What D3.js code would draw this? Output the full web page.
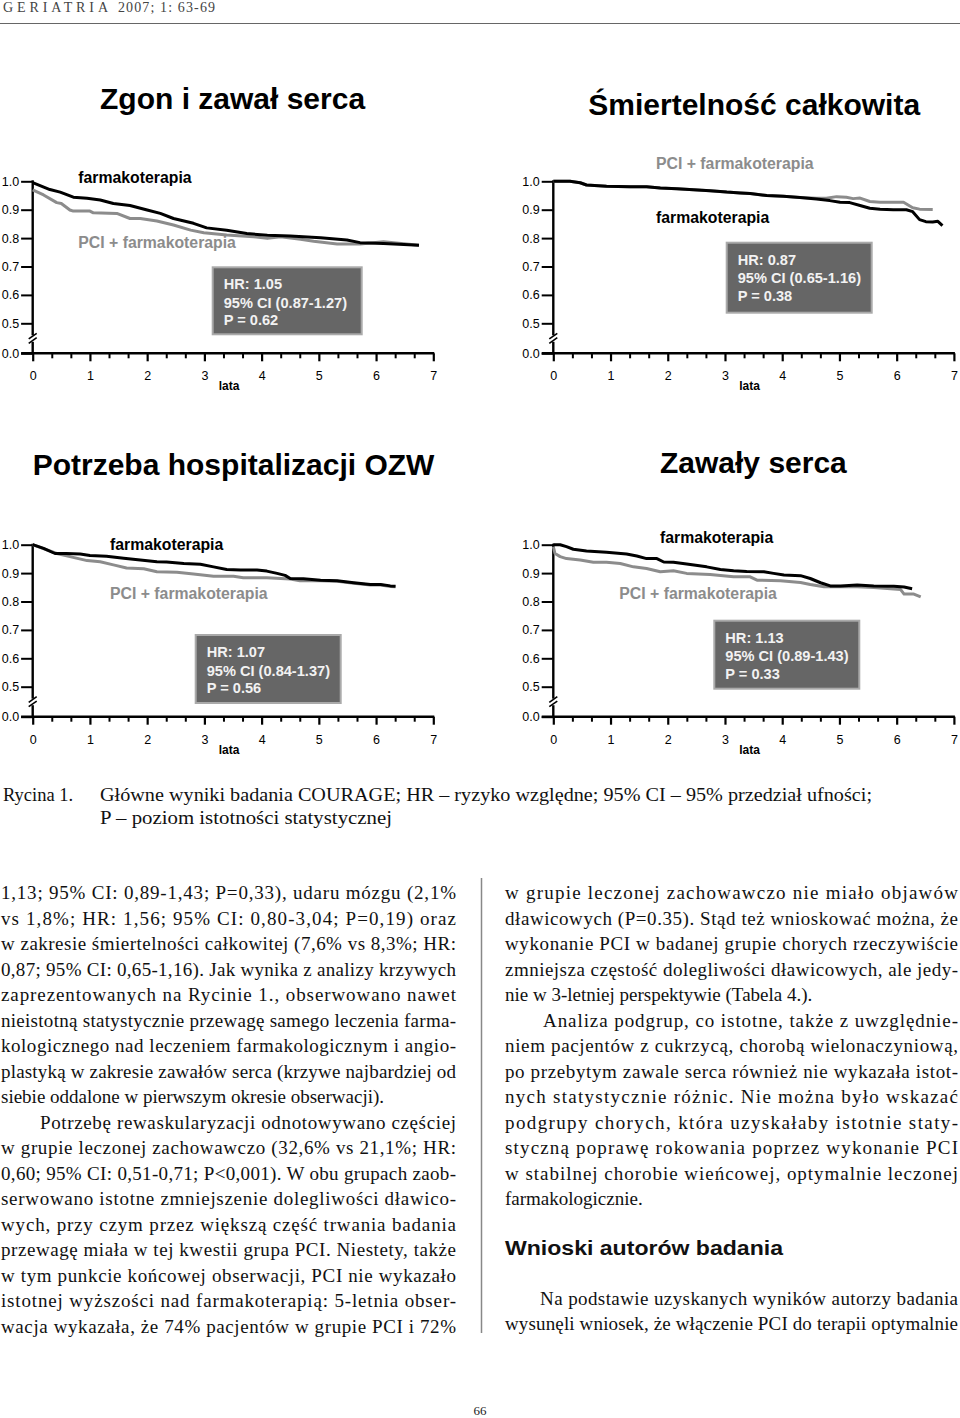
<!DOCTYPE html>
<html><head><meta charset="utf-8">
<script src="https://cdn.jsdelivr.net/npm/d3@7"></script>
<style>body{margin:0;background:#fff} svg{display:block}</style>
</head><body><svg id="c" width="960" height="1418"></svg>
<script>
// ---------------- DATA ----------------
const chartTitles = ["Zgon i zawał serca", "Śmiertelność całkowita", "Potrzeba hospitalizacji OZW", "Zawały serca"];
const seriesNames = ["farmakoterapia", "PCI + farmakoterapia"];
const hrLines = [
  ["HR: 1.05", "95% CI (0.87-1.27)", "P = 0.62"],
  ["HR: 0.87", "95% CI (0.65-1.16)", "P = 0.38"],
  ["HR: 1.07", "95% CI (0.84-1.37)", "P = 0.56"],
  ["HR: 1.13", "95% CI (0.89-1.43)", "P = 0.33"]
];
const xTickValues = [0, 1, 2, 3, 4, 5, 6, 7];
const yTickValues = [0, 0.5, 0.6, 0.7, 0.8, 0.9, 1.0];
const xAxisLabel = "lata";

const zgonFarm = [[0,0.995],[0.3,0.971],[0.48,0.962],[0.71,0.944],[0.95,0.94],[1.18,0.934],[1.41,0.922],[1.7,0.915],[2.0,0.899],[2.23,0.887],[2.46,0.869],[2.81,0.852],[3.04,0.836],[3.39,0.828],[3.74,0.816],[4.1,0.81],[4.5,0.807],[5.03,0.801],[5.49,0.793],[5.72,0.784],[6.13,0.781],[6.75,0.775]];
const zgonPci = [[0,0.97],[0.19,0.952],[0.42,0.925],[0.5,0.922],[0.65,0.899],[0.71,0.895],[1.0,0.895],[1.06,0.889],[1.47,0.887],[1.7,0.869],[1.88,0.869],[2.17,0.86],[2.46,0.846],[2.76,0.828],[2.99,0.819],[3.39,0.811],[3.86,0.805],[4.1,0.799],[4.33,0.805],[4.68,0.796],[4.91,0.789],[5.32,0.779],[5.72,0.779],[6.13,0.787],[6.75,0.775]];

const smiertFarm = [[0,1.0],[0.29,1.0],[0.47,0.995],[0.58,0.987],[0.93,0.983],[1.34,0.981],[1.63,0.981],[1.87,0.976],[2.16,0.974],[2.45,0.97],[2.74,0.967],[3.03,0.962],[3.27,0.959],[3.44,0.957],[3.73,0.95],[4.02,0.947],[4.31,0.943],[4.6,0.938],[4.83,0.932],[5.01,0.926],[5.18,0.925],[5.36,0.915],[5.53,0.905],[5.71,0.902],[5.94,0.9],[6.17,0.9],[6.28,0.893],[6.4,0.865],[6.51,0.858],[6.63,0.857],[6.72,0.859],[6.8,0.844]];
const smiertPci = [[0,1.0],[0.29,1.0],[0.47,0.995],[0.58,0.987],[0.93,0.983],[1.34,0.981],[1.63,0.981],[1.87,0.976],[2.16,0.974],[2.45,0.97],[2.74,0.967],[3.03,0.962],[3.27,0.959],[3.44,0.957],[3.73,0.95],[4.02,0.947],[4.31,0.943],[4.6,0.94],[4.77,0.94],[4.95,0.946],[5.12,0.944],[5.24,0.939],[5.36,0.941],[5.53,0.929],[5.71,0.926],[6.12,0.926],[6.28,0.907],[6.4,0.902],[6.63,0.901]];

const hospFarm = [[0,1.0],[0.19,0.987],[0.39,0.969],[0.59,0.969],[0.83,0.967],[1.0,0.962],[1.29,0.959],[1.59,0.952],[1.88,0.946],[2.17,0.94],[2.34,0.939],[2.64,0.934],[2.93,0.931],[3.16,0.922],[3.39,0.913],[3.63,0.911],[3.92,0.911],[4.09,0.907],[4.27,0.899],[4.41,0.892],[4.5,0.881],[4.73,0.88],[5.03,0.875],[5.32,0.873],[5.61,0.866],[5.9,0.86],[6.08,0.86],[6.25,0.855],[6.34,0.854]];
const hospPci = [[0,1.0],[0.42,0.969],[0.65,0.958],[0.95,0.944],[1.18,0.94],[1.41,0.929],[1.64,0.918],[1.94,0.915],[2.17,0.905],[2.52,0.903],[2.81,0.897],[3.16,0.889],[3.51,0.889],[3.68,0.884],[4.09,0.884],[4.5,0.879],[4.67,0.873],[5.03,0.873],[5.32,0.871],[5.61,0.864],[5.9,0.858],[6.08,0.858],[6.25,0.853],[6.34,0.852]];

const zawalFarm = [[0,1.0],[0.12,1.0],[0.23,0.993],[0.35,0.984],[0.58,0.978],[0.93,0.973],[1.28,0.967],[1.46,0.96],[1.63,0.951],[1.81,0.951],[1.93,0.939],[2.1,0.938],[2.33,0.932],[2.68,0.922],[2.92,0.913],[3.15,0.908],[3.38,0.906],[3.68,0.905],[3.85,0.899],[4.03,0.893],[4.32,0.891],[4.49,0.881],[4.67,0.866],[4.84,0.855],[5.02,0.855],[5.31,0.858],[5.6,0.855],[5.95,0.854],[6.13,0.851],[6.27,0.845]];
const zawalPci = [[0,0.993],[0.03,0.969],[0.12,0.958],[0.23,0.951],[0.47,0.946],[0.7,0.938],[0.93,0.938],[1.17,0.934],[1.4,0.922],[1.63,0.916],[1.87,0.905],[2.1,0.908],[2.33,0.899],[2.74,0.895],[3.15,0.887],[3.44,0.887],[3.56,0.875],[3.97,0.873],[4.32,0.867],[4.49,0.86],[4.73,0.852],[5.02,0.852],[5.31,0.852],[5.6,0.849],[6.07,0.842],[6.13,0.826],[6.3,0.826],[6.42,0.816]];

const farmSeries = [zgonFarm, smiertFarm, hospFarm, zawalFarm];
const pciSeries = [zgonPci, smiertPci, hospPci, zawalPci];

const headerText = ["GERIATRIA", "2007; 1: 63-69"];
const captionLines = ["Główne wyniki badania COURAGE; HR – ryzyko względne; 95% CI – 95% przedział ufności;", "P – poziom istotności statystycznej"];
const captionLabel = "Rycina 1.";
const leftColumn = [
  "1,13; 95% CI: 0,89-1,43; P=0,33), udaru mózgu (2,1%",
  "vs 1,8%; HR: 1,56; 95% CI: 0,80-3,04; P=0,19) oraz",
  "w zakresie śmiertelności całkowitej (7,6% vs 8,3%; HR:",
  "0,87; 95% CI: 0,65-1,16). Jak wynika z analizy krzywych",
  "zaprezentowanych na Rycinie 1., obserwowano nawet",
  "nieistotną statystycznie przewagę samego leczenia farma-",
  "kologicznego nad leczeniem farmakologicznym i angio-",
  "plastyką w zakresie zawałów serca (krzywe najbardziej od",
  "siebie oddalone w pierwszym okresie obserwacji).",
  "Potrzebę rewaskularyzacji odnotowywano częściej",
  "w grupie leczonej zachowawczo (32,6% vs 21,1%; HR:",
  "0,60; 95% CI: 0,51-0,71; P<0,001). W obu grupach zaob-",
  "serwowano istotne zmniejszenie dolegliwości dławico-",
  "wych, przy czym przez większą część trwania badania",
  "przewagę miała w tej kwestii grupa PCI. Niestety, także",
  "w tym punkcie końcowej obserwacji, PCI nie wykazało",
  "istotnej wyższości nad farmakoterapią: 5-letnia obser-",
  "wacja wykazała, że 74% pacjentów w grupie PCI i 72%"
];
const leftIndent = [9];
const leftRagged = [8];
const rightColumn = [
  "w grupie leczonej zachowawczo nie miało objawów",
  "dławicowych (P=0.35). Stąd też wnioskować można, że",
  "wykonanie PCI w badanej grupie chorych rzeczywiście",
  "zmniejsza częstość dolegliwości dławicowych, ale jedy-",
  "nie w 3-letniej perspektywie (Tabela 4.).",
  "Analiza podgrup, co istotne, także z uwzględnie-",
  "niem pacjentów z cukrzycą, chorobą wielonaczyniową,",
  "po przebytym zawale serca również nie wykazała istot-",
  "nych statystycznie różnic. Nie można było wskazać",
  "podgrupy chorych, która uzyskałaby istotnie staty-",
  "styczną poprawę rokowania poprzez wykonanie PCI",
  "w stabilnej chorobie wieńcowej, optymalnie leczonej",
  "farmakologicznie."
];
const rightIndent = [5];
const rightRagged = [4, 12];
const sectionHeading = "Wnioski autorów badania";
const conclusionLines = ["Na podstawie uzyskanych wyników autorzy badania", "wysunęli wniosek, że włączenie PCI do terapii optymalnie"];
const pageNumber = "66";

// ---------------- LAYOUT ----------------
const layouts = [
  {x0:32.7, yTop:181.3, title:{x:100,y:109}, farmLbl:{x:78.3,y:182.7}, pciLbl:{x:78.3,y:248.3}, box:{x:212.7,y:267.3,w:149,h:67}},
  {x0:553.3, yTop:181.3, title:{x:588.3,y:115}, farmLbl:{x:656,y:222.7}, pciLbl:{x:656,y:169}, box:{x:726.7,y:242.7,w:145,h:70}},
  {x0:32.7, yTop:544.7, title:{x:32.7,y:475}, farmLbl:{x:110,y:550}, pciLbl:{x:110,y:599.3}, box:{x:195.7,y:635,w:145,h:68}},
  {x0:553.3, yTop:544.7, title:{x:660,y:473.3}, farmLbl:{x:660,y:543.3}, pciLbl:{x:619.3,y:599}, box:{x:714.3,y:620.7,w:145,h:68}}
];
const SANS = "'Liberation Sans', Arial, sans-serif";
const SERIF = "'Liberation Serif', 'Times New Roman', serif";
const GRAY_LINE = "#8c8c8c";

const svg = d3.select("#c");

// header
svg.append("text").attr("x",3).attr("y",12).attr("font-family",SERIF).attr("font-size",14).attr("fill","#444")
  .attr("textLength",105).attr("lengthAdjust","spacing").text(headerText[0]);
svg.append("text").attr("x",118).attr("y",12).attr("font-family",SERIF).attr("font-size",14).attr("fill","#444")
  .attr("textLength",97).attr("lengthAdjust","spacing").text(headerText[1]);
svg.append("line").attr("x1",0).attr("x2",960).attr("y1",23.5).attr("y2",23.5).attr("stroke","#666").attr("stroke-width",1.2);

layouts.forEach((L, i) => {
  const g = svg.append("g");
  const x = d3.scaleLinear().domain([0,7]).range([L.x0, L.x0 + 400.6]);
  const y = d3.scaleLinear().domain([0,0.5,1.0]).range([L.yTop + 172, L.yTop + 142, L.yTop]);

  // title
  g.append("text").attr("x",L.title.x).attr("y",L.title.y).attr("font-family",SANS).attr("font-weight","bold")
    .attr("font-size",30).attr("fill","#000").text(chartTitles[i]);

  // minor x ticks
  const minor = d3.range(0, 21).map(k => k/3).filter(v => Math.abs(v - Math.round(v)) > 0.01);
  const gMinor = g.append("g").attr("transform",`translate(0,${y(0)})`)
    .call(d3.axisBottom(x).tickValues(minor).tickSize(5).tickFormat(""));
  gMinor.select(".domain").remove();
  gMinor.selectAll("line").attr("stroke","#000").attr("stroke-width",2);

  const gx = g.append("g").attr("transform",`translate(0,${y(0)})`)
    .call(d3.axisBottom(x).tickValues(xTickValues).tickSize(8).tickPadding(10).tickFormat(d3.format("d")));
  gx.select(".domain").remove();
  gx.selectAll("line").attr("stroke","#000").attr("stroke-width",2.2);
  gx.selectAll("text").attr("font-family",SANS).attr("font-size",12.5).attr("fill","#000");

  const gy = g.append("g").attr("transform",`translate(${x(0)},0)`)
    .call(d3.axisLeft(y).tickValues(yTickValues).tickSize(11.6).tickPadding(2).tickFormat(d3.format(".1f")));
  gy.select(".domain").remove();
  gy.selectAll("line").attr("stroke","#000").attr("stroke-width",2);
  gy.selectAll("text").attr("font-family",SANS).attr("font-size",12.5).attr("fill","#000");

  // axis lines with break
  const brk = (y(0.5) + y(0)) / 2;
  g.append("line").attr("x1",x(0)-11.6).attr("x2",x(7)+1).attr("y1",y(0)).attr("y2",y(0)).attr("stroke","#000").attr("stroke-width",2.4);
  g.append("line").attr("x1",x(0)).attr("x2",x(0)).attr("y1",y(1)-1).attr("y2",brk-3).attr("stroke","#000").attr("stroke-width",2.4);
  g.append("line").attr("x1",x(0)).attr("x2",x(0)).attr("y1",brk+3.5).attr("y2",y(0)).attr("stroke","#000").attr("stroke-width",2.4);
  [-2.2, 2.2].forEach(d => {
    g.append("line").attr("x1",x(0)-4).attr("x2",x(0)+4).attr("y1",brk+d+2.8).attr("y2",brk+d-2.8)
      .attr("stroke","#000").attr("stroke-width",1.6);
  });

  // axis label
  g.append("text").attr("x",x(3.43)).attr("y",y(0)+37).attr("text-anchor","middle").attr("font-family",SANS)
    .attr("font-weight","bold").attr("font-size",12).text(xAxisLabel);

  // curves
  const line = d3.line().x(d => x(d[0])).y(d => y(d[1]));
  g.append("path").datum(pciSeries[i]).attr("d",line).attr("fill","none").attr("stroke",GRAY_LINE).attr("stroke-width",3).attr("stroke-linejoin","round");
  g.append("path").datum(farmSeries[i]).attr("d",line).attr("fill","none").attr("stroke","#000").attr("stroke-width",3).attr("stroke-linejoin","round");

  // series labels
  g.append("text").attr("x",L.farmLbl.x).attr("y",L.farmLbl.y).attr("font-family",SANS).attr("font-weight","bold")
    .attr("font-size",15.8).attr("fill","#000").text(seriesNames[0]);
  g.append("text").attr("x",L.pciLbl.x).attr("y",L.pciLbl.y).attr("font-family",SANS).attr("font-weight","bold")
    .attr("font-size",15.8).attr("fill","#8c8c8c").text(seriesNames[1]);

  // HR box
  g.append("rect").attr("x",L.box.x).attr("y",L.box.y).attr("width",L.box.w).attr("height",L.box.h)
    .attr("fill","#666").attr("stroke","#aaa").attr("stroke-width",2);
  [22, 40.5, 58].forEach((dy, k) => {
    g.append("text").attr("x",L.box.x+11).attr("y",L.box.y+dy).attr("font-family",SANS).attr("font-weight","bold")
      .attr("font-size",14.6).attr("fill","#f2f2f2").text(hrLines[i][k]);
  });
});

// caption
svg.append("text").attr("x",3).attr("y",801).attr("font-family",SERIF).attr("font-size",18.5).attr("fill","#111").text(captionLabel);
captionLines.forEach((t, k) => {
  svg.append("text").attr("x",100).attr("y",801 + k*23).attr("font-family",SERIF).attr("font-size",18.5).attr("fill","#111")
    .attr("textLength", k === 0 ? 772 : 292).attr("lengthAdjust","spacingAndGlyphs").text(t);
});

// body columns
function column(lines, x0, width, y0, lh, indents, ragged, indentSize) {
  lines.forEach((t, k) => {
    const ind = indents.includes(k) ? indentSize : 0;
    const tx = svg.append("text").attr("x", x0 + ind).attr("y", y0 + k*lh).attr("font-family",SERIF)
      .attr("font-size",19).attr("fill","#111").text(t);
    if (!ragged.includes(k)) tx.attr("textLength", width - ind).attr("lengthAdjust","spacing");
  });
}
column(leftColumn, 1, 455, 899, 25.5, leftIndent, leftRagged, 39);
column(rightColumn, 505, 453, 899, 25.5, rightIndent, rightRagged, 38);

svg.append("line").attr("x1",481.5).attr("x2",481.5).attr("y1",878).attr("y2",1333).attr("stroke","#888").attr("stroke-width",1.5);

svg.append("text").attr("x",505).attr("y",1255).attr("font-family",SANS).attr("font-weight","bold").attr("font-size",20)
  .attr("fill","#111").attr("textLength",278).attr("lengthAdjust","spacingAndGlyphs").text(sectionHeading);
svg.append("text").attr("x",540).attr("y",1305).attr("font-family",SERIF).attr("font-size",19).attr("fill","#111")
  .attr("textLength",418).attr("lengthAdjust","spacing").text(conclusionLines[0]);
svg.append("text").attr("x",505).attr("y",1330).attr("font-family",SERIF).attr("font-size",19).attr("fill","#111")
  .attr("textLength",453).attr("lengthAdjust","spacing").text(conclusionLines[1]);

svg.append("text").attr("x",480).attr("y",1415).attr("text-anchor","middle").attr("font-family",SERIF).attr("font-size",13).attr("fill","#222").text(pageNumber);
</script></body></html>
